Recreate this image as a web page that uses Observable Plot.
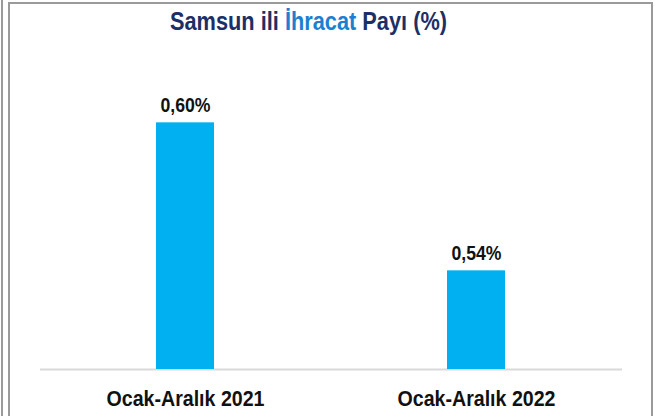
<!DOCTYPE html>
<html>
<head>
<meta charset="utf-8">
<script src="https://cdn.jsdelivr.net/npm/d3@7"></script>
<script src="https://cdn.jsdelivr.net/npm/@observablehq/plot@0.6"></script>
<style>
  html, body { margin: 0; padding: 0; background: #fff; }
  #wrap { position: relative; width: 661px; height: 416px; overflow: hidden; background: #fff; }
  .edge { position: absolute; background: #9a9a9a; }
  #title { position: absolute; left: 170px; top: 9px; line-height: 24px; font-size: 25px; font-weight: bold;
           font-family: "Liberation Sans Narrow", "Arial Narrow", "Liberation Sans", sans-serif; color: #1c2f66; white-space: nowrap;
           transform-origin: 0 0; }
  #title .hl { color: #1b80d0; }
  #chart { position: absolute; left: 0; top: 0; }
</style>
</head>
<body>
<div id="wrap">
  <div id="chart"></div>
  <div class="edge" style="left:1px;top:0;width:2px;height:416px"></div>
  <div class="edge" style="left:8px;top:2px;width:2px;height:414px"></div>
  <div class="edge" style="left:8px;top:2px;width:645px;height:2px"></div>
  <div class="edge" style="left:651px;top:2px;width:2px;height:414px"></div>
  <div id="title">Samsun ili <span class="hl">İhracat</span> Payı (%)</div>
</div>
<script>
const categories = ["Ocak-Aralık 2021", "Ocak-Aralık 2022"];
const values = [0.60, 0.54];
const axisMin = 0.50;
const axisMax = 0.62;

const data = categories.map((c, i) => ({category: c, value: values[i]}));
const fmt = v => v.toFixed(2).replace(".", ",") + "%";

const chart = Plot.plot({
  width: 661,
  height: 416,
  marginTop: 73,
  marginBottom: 47,
  marginLeft: 40,
  marginRight: 39,
  style: {fontFamily: "'Liberation Sans Narrow', 'Arial Narrow', 'Liberation Sans', sans-serif", background: "transparent", overflow: "visible"},
  x: {domain: categories, paddingInner: 0.8, paddingOuter: 0.4, label: null},
  y: {domain: [axisMin, axisMax], axis: null},
  marks: [
    Plot.ruleY([axisMin], {stroke: "#d9d9d9", strokeWidth: 2}),
    Plot.barY(data, {x: "category", y1: axisMin, y2: "value", fill: "#00b0f0"}),
    Plot.text(data, {x: "category", y: "value", text: d => fmt(d.value), lineAnchor: "bottom", dy: -11,
      fontSize: 20, fontWeight: "bold", fill: "#111"}),
    Plot.axisX({tickSize: 0, tickPadding: 21, fontSize: 22, fontWeight: "bold", color: "#111", label: null})
  ]
});
document.getElementById("chart").appendChild(chart);

// emulate a narrow typeface by compressing glyphs horizontally
function narrow(sel, target) {
  d3.select(chart).selectAll(sel).each(function() {
    const w = this.getComputedTextLength();
    this.setAttribute("textLength", target);
    this.setAttribute("lengthAdjust", "spacingAndGlyphs");
  });
}
narrow("g[aria-label='x-axis tick label'] text", 158);
narrow("g[aria-label='text'] text", 50);

const t = document.getElementById("title");
const tw = t.getBoundingClientRect().width;
t.style.transform = `scaleX(${277 / tw})`;
</script>
</body>
</html>
